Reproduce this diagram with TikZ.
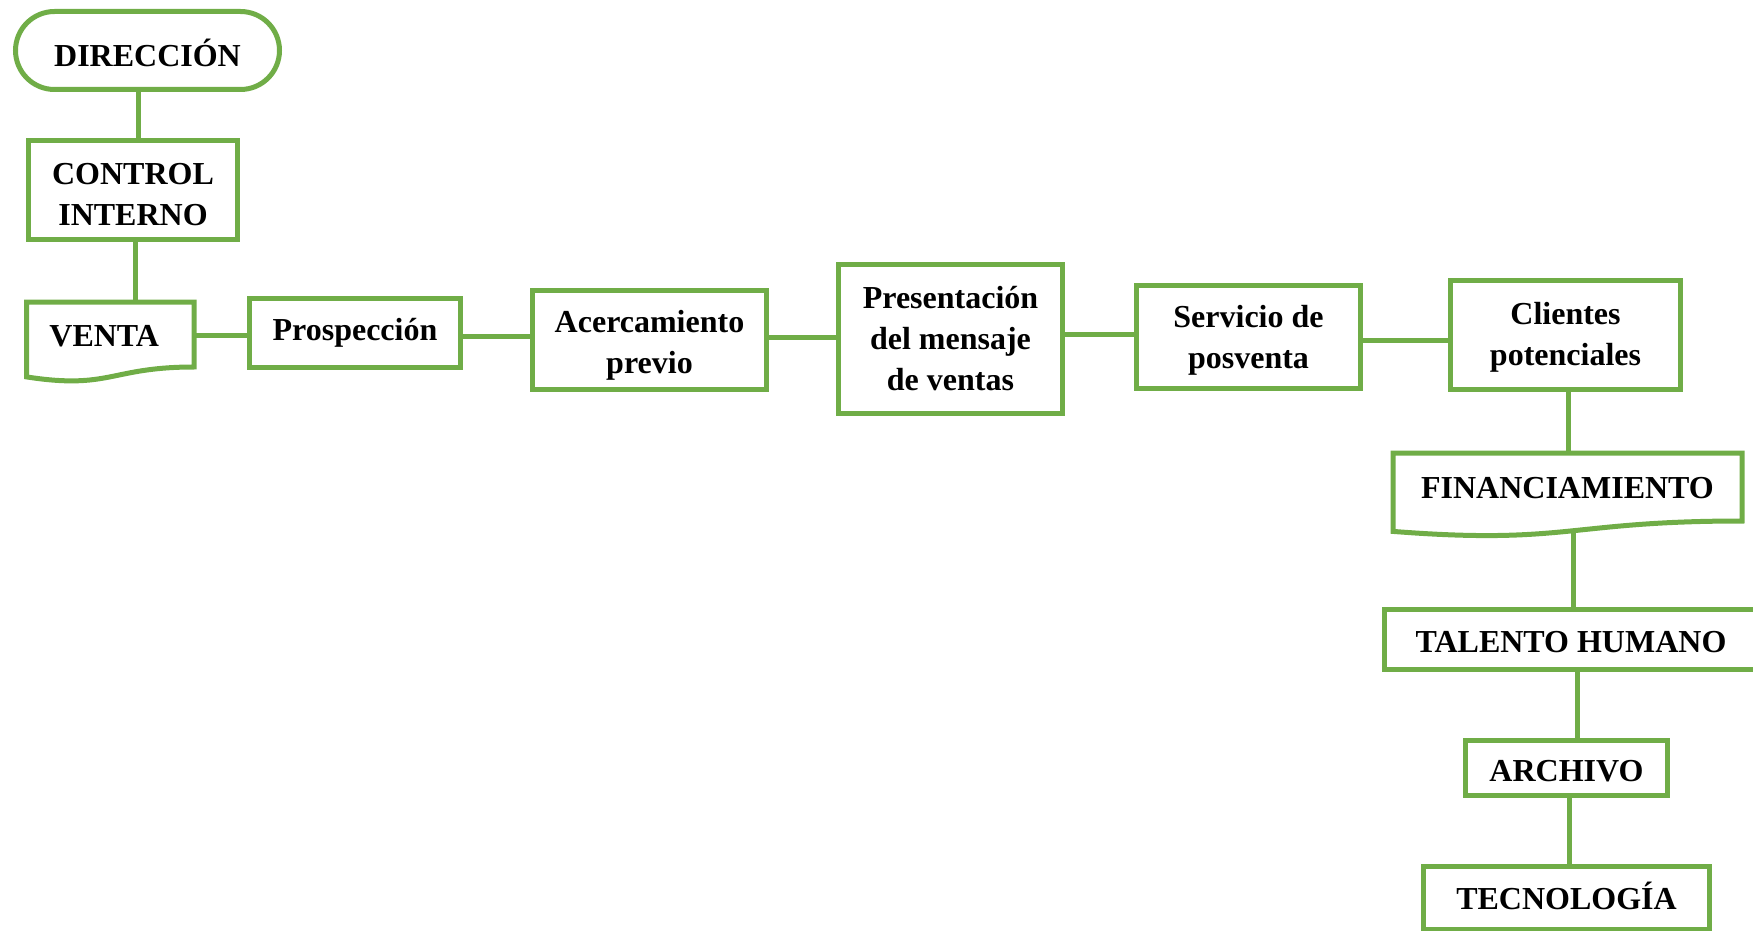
\documentclass[tikz,border=0pt]{standalone}
\usepackage{fontspec}
\setmainfont{Liberation Serif}
\definecolor{leaf}{HTML}{70AD47}
\begin{document}
\begin{tikzpicture}[x=0.5pt,y=-0.5pt,
  line width=2.5pt,
  txt/.style={font=\bfseries\fontsize{16}{20.5}\selectfont, align=center, inner sep=0pt},
  box/.style={draw=leaf, fill=white, rectangle, inner sep=0pt},
  doc/.style={rectangle, inner sep=0pt},
  term/.style={draw=leaf, fill=white, rectangle, inner sep=0pt, rounded corners=19.5pt},
  link/.style={draw=leaf, line width=2.5pt}]
\useasboundingbox (0,0) rectangle (1753,931);

% vertical column on the left
\node[term, minimum width=132pt, minimum height=39pt] (dir) at (147.5,50.5) {};
\node[txt] (dir-t) at ([yshift=-1pt]dir.center) {DIRECCIÓN};
\node[box, minimum width=104.5pt, minimum height=49.5pt] (ctl) at (133,190) {};
\node[txt] (ctl-t) at ([yshift=-2.5pt]ctl.center) {CONTROL\\INTERNO};
\node[doc, minimum width=81.25pt, minimum height=30pt] (ven) at (110.25,334.5) {};
\draw[leaf] (ven.north west) -- (ven.north east) -- (ven.south east)
  .. controls (ven.south) and ([yshift=-11.45pt]ven.south) .. ([yshift=-4.95pt]ven.south west) -- cycle;
\node[txt] (ven-t) at ([xshift=-3pt,yshift=-1pt]ven.center) {VENTA};

% sales process row
\node[box, minimum width=105.5pt, minimum height=34.5pt] (pro) at (355,333) {};
\node[txt] (pro-t) at (pro.center) {Prospección};
\node[box, minimum width=117pt, minimum height=49.5pt] (ace) at (649.5,340) {};
\node[txt] (ace-t) at ([yshift=-2.5pt]ace.center) {Acercamiento\\previo};
\node[box, minimum width=112pt, minimum height=74.5pt] (pre) at (950.5,339) {};
\node[txt] (pre-t) at (pre.center) {Presentación\\del mensaje\\de ventas};
\node[box, minimum width=112pt, minimum height=51.5pt] (ser) at (1248.5,337) {};
\node[txt] (ser-t) at ([yshift=-1.5pt]ser.center) {Servicio de\\posventa};
\node[box, minimum width=115pt, minimum height=54.5pt] (cli) at (1565.5,335) {};
\node[txt] (cli-t) at ([yshift=-1pt]cli.center) {Clientes\\potenciales};

% support column on the right
\node[doc, minimum width=172pt, minimum height=31.5pt] (fin) at (1567.5,487) {};
\draw[leaf] (fin.north west) -- (fin.north east) -- (fin.south east)
  .. controls (fin.south) and ([yshift=-12pt]fin.south) .. ([yshift=-5.2pt]fin.south west) -- cycle;
\node[txt] (fin-t) at ([yshift=-0.5pt]fin.center) {FINANCIAMIENTO};
\node[box, minimum width=186.5pt, minimum height=30pt] (tal) at (1571,639.5) {};
\node[txt] (tal-t) at ([yshift=-1.5pt]tal.center) {TALENTO HUMANO};
\node[box, minimum width=101pt, minimum height=27.5pt] (arc) at (1566.5,768) {};
\node[txt] (arc-t) at ([yshift=-1.5pt]arc.center) {ARCHIVO};
\node[box, minimum width=143pt, minimum height=31.5pt] (tec) at (1566.5,898) {};
\node[txt] (tec-t) at ([yshift=1pt]tec.center) {TECNOLOGÍA};

% connectors
\draw[link] ([xshift=-4.75pt]dir.south) -- ([xshift=-4.75pt]dir.south |- ctl.north);
\draw[link] ([xshift=1pt]ctl.south) -- ([xshift=1pt]ctl.south |- ven.north);
\draw[link] ([yshift=-0.25pt]ven.east) -- ([yshift=-0.25pt]ven.east -| pro.west);
\draw[link] ([yshift=-1.75pt]pro.east) -- ([yshift=-1.75pt]pro.east -| ace.west);
\draw[link] ([yshift=1.5pt]ace.east) -- ([yshift=1.5pt]ace.east -| pre.west);
\draw[link] ([yshift=2.5pt]pre.east) -- ([yshift=2.5pt]pre.east -| ser.west);
\draw[link] ([yshift=-1.5pt]ser.east) -- ([yshift=-1.5pt]ser.east -| cli.west);
\draw[link] ([xshift=1.25pt]cli.south) -- ([xshift=1.25pt]cli.south |- fin.north);
\draw[link] ([xshift=2.75pt,yshift=-4.5pt]fin.south) -- ([xshift=2.75pt]fin.south |- tal.north);
\draw[link] ([xshift=3.25pt]tal.south) -- ([xshift=3.25pt]tal.south |- arc.north);
\draw[link] ([xshift=1.25pt]arc.south) -- ([xshift=1.25pt]arc.south |- tec.north);
\end{tikzpicture}
\end{document}
